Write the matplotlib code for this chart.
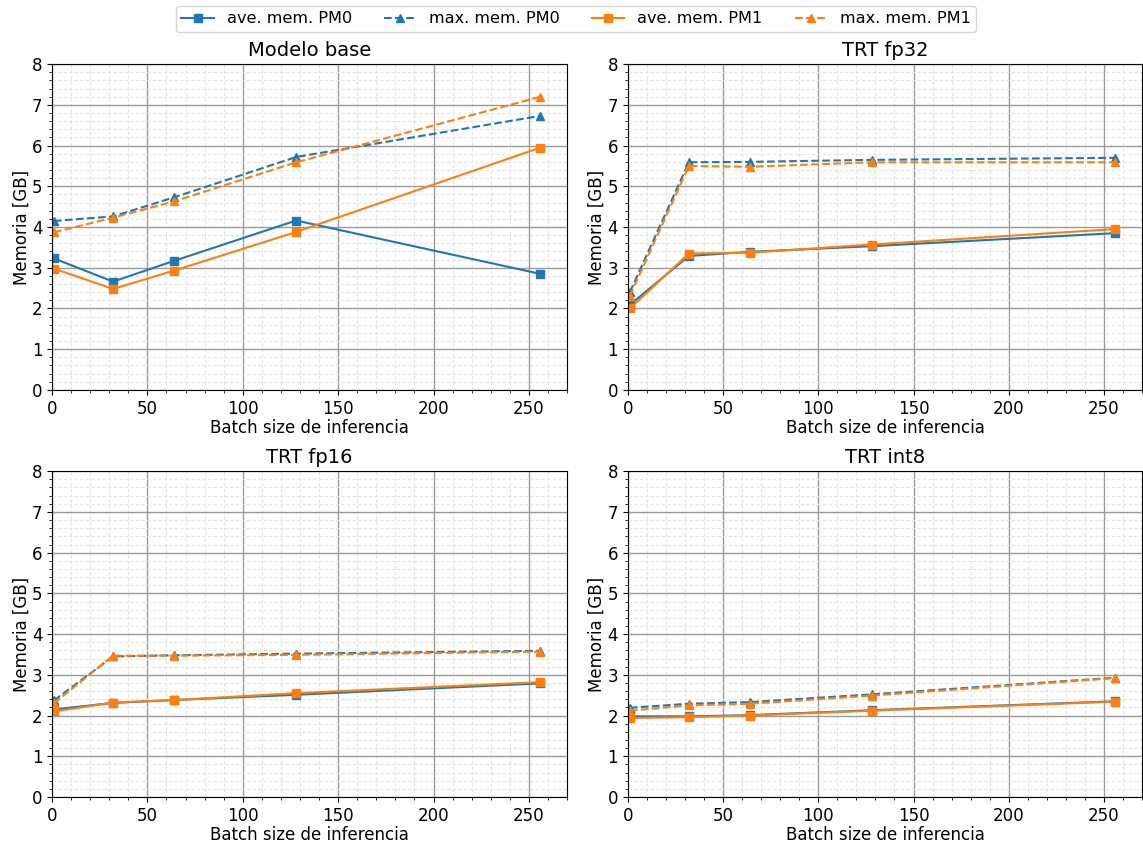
import matplotlib
matplotlib.use("Agg")
import matplotlib.pyplot as plt
from matplotlib.ticker import AutoMinorLocator, MultipleLocator

batch_sizes = [1, 32, 64, 128, 256]
titles = ["Modelo base", "TRT fp32", "TRT fp16", "TRT int8"]

# memoria [GB] por modelo: ave PM0, max PM0, ave PM1, max PM1
base_ave_pm0 = [3.23, 2.66, 3.17, 4.16, 2.85]
base_max_pm0 = [4.15, 4.26, 4.73, 5.72, 6.73]
base_ave_pm1 = [2.98, 2.48, 2.93, 3.88, 5.95]
base_max_pm1 = [3.87, 4.23, 4.63, 5.59, 7.20]

fp32_ave_pm0 = [2.09, 3.29, 3.39, 3.53, 3.85]
fp32_max_pm0 = [2.40, 5.59, 5.60, 5.65, 5.70]
fp32_ave_pm1 = [2.00, 3.35, 3.37, 3.57, 3.95]
fp32_max_pm1 = [2.31, 5.50, 5.48, 5.59, 5.59]

fp16_ave_pm0 = [2.15, 2.31, 2.38, 2.51, 2.79]
fp16_max_pm0 = [2.37, 3.45, 3.48, 3.52, 3.59]
fp16_ave_pm1 = [2.10, 2.32, 2.38, 2.55, 2.82]
fp16_max_pm1 = [2.30, 3.47, 3.47, 3.49, 3.57]

int8_ave_pm0 = [1.98, 1.98, 2.01, 2.13, 2.35]
int8_max_pm0 = [2.19, 2.29, 2.33, 2.52, 2.93]
int8_ave_pm1 = [1.94, 1.96, 2.00, 2.12, 2.34]
int8_max_pm1 = [2.12, 2.25, 2.29, 2.49, 2.92]

models = [
    (base_ave_pm0, base_max_pm0, base_ave_pm1, base_max_pm1),
    (fp32_ave_pm0, fp32_max_pm0, fp32_ave_pm1, fp32_max_pm1),
    (fp16_ave_pm0, fp16_max_pm0, fp16_ave_pm1, fp16_max_pm1),
    (int8_ave_pm0, int8_max_pm0, int8_ave_pm1, int8_max_pm1),
]

labels = ["ave. mem. PM0", "max. mem. PM0", "ave. mem. PM1", "max. mem. PM1"]
colors = ["#1f77b4", "#1f77b4", "#ff7f0e", "#ff7f0e"]
styles = ["-", "--", "-", "--"]
markers = ["s", "^", "s", "^"]

plt.rcParams["font.size"] = 12

fig = plt.figure(figsize=(11.43, 8.44), dpi=100)
positions = [
    [0.0455, 0.538, 0.4506, 0.386],
    [0.5494, 0.538, 0.4497, 0.386],
    [0.0455, 0.0557, 0.4506, 0.386],
    [0.5494, 0.0557, 0.4497, 0.386],
]

handles = []
for pos, title, series in zip(positions, titles, models):
    ax = fig.add_axes(pos)
    handles = []
    for values, label, color, ls, mk in zip(series, labels, colors, styles, markers):
        h, = ax.plot(batch_sizes, values, color=color, linestyle=ls, marker=mk,
                     markersize=6, linewidth=1.5, label=label)
        handles.append(h)
    ax.set_title(title, fontsize=14)
    ax.set_xlim(0, 270)
    ax.set_ylim(0, 8)
    ax.xaxis.set_major_locator(MultipleLocator(50))
    ax.yaxis.set_major_locator(MultipleLocator(1))
    ax.xaxis.set_minor_locator(AutoMinorLocator(5))
    ax.yaxis.set_minor_locator(AutoMinorLocator(5))
    ax.grid(which="major", color="#9a9a9a", linewidth=1.0)
    ax.grid(which="minor", color="#e4e4e4", linestyle=(0, (3, 2)), linewidth=0.8)
    ax.set_axisbelow(True)
    ax.set_xlabel("Batch size de inferencia", labelpad=1)
    ax.set_ylabel("Memoria [GB]", labelpad=1)

fig.legend(handles, labels, loc="upper center", ncol=4, bbox_to_anchor=(0.504, 1.003),
           fontsize=11.6, frameon=True, borderpad=0.35)

fig.savefig("out.png", dpi=100)
